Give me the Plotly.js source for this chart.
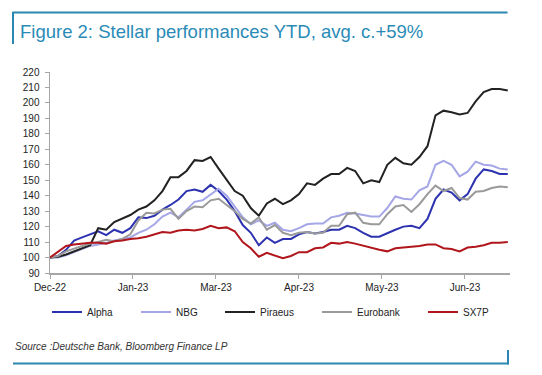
<!DOCTYPE html>
<html>
<head>
<meta charset="utf-8">
<script src="https://cdn.plot.ly/plotly-3.0.1.min.js"></script>
<style>html,body{margin:0;padding:0;background:#fff;}#chart{width:542px;height:375px;}</style>
</head>
<body>
<div id="chart"></div>
<script>
// Dates (sampled every 3 calendar days)
const dates = ["2022-12-30","2023-01-02","2023-01-05","2023-01-08","2023-01-11","2023-01-14","2023-01-17","2023-01-20","2023-01-23","2023-01-26",
"2023-01-29","2023-02-01","2023-02-04","2023-02-07","2023-02-10","2023-02-13","2023-02-16","2023-02-19","2023-02-22","2023-02-25",
"2023-02-28","2023-03-03","2023-03-06","2023-03-09","2023-03-12","2023-03-15","2023-03-18","2023-03-21","2023-03-24","2023-03-27",
"2023-03-30","2023-04-02","2023-04-05","2023-04-08","2023-04-11","2023-04-14","2023-04-17","2023-04-20","2023-04-23","2023-04-26",
"2023-04-29","2023-05-02","2023-05-05","2023-05-08","2023-05-11","2023-05-14","2023-05-17","2023-05-20","2023-05-23","2023-05-26",
"2023-05-29","2023-06-01","2023-06-04","2023-06-07","2023-06-10","2023-06-13","2023-06-16","2023-06-19"];

const alpha = [100,101,105,111,113,115,117,114.5,118,116,119,126,125.5,127,131,134,137.5,143,144,142.5,
147,143,137.5,130,121,116,108,113,109.5,112,112,115,116.5,115.5,116.5,118,118,120.5,119,116,
113.5,113.5,116,118,120,120.5,119,125,138,144,142,137,141,151,157,156,154,154];

const nbg = [100,100,101.5,103.5,105.5,107.5,108.5,109.5,111,112,113,116,118,121.5,126.5,129,126,131,136,137,
141,144.5,140,133,126,121.5,124,120.5,122.5,118,117,119,121.5,122,122,126,127,129,128.5,127.5,
126.5,126.5,132,139.5,138,137.5,143.5,146,160,162.6,160,152.5,155.5,162,160,159.5,157.5,157];

const piraeus = [100,100.5,102,104,106.5,108,119,118,123,125.5,127.5,131,133,137,143,152,152,156,163,162.5,
165,157.5,150,143,140,132,127,135,138,134.5,137,141,148,147,151,154,154,158,156,148,
150,148.8,160,164.5,161,160,165,172,192,195,194,192.5,193.5,201,207,209,209,208];

const eurobank = [100,101,104,106,107.5,109,110,111.5,110.5,112,115,124,129,128.5,131,131.5,125,130,133,132.5,
137,138,134,130,125,122,126,118,121,116,114.5,116,116.5,115.5,116,120.5,120.5,128,129,122.5,
121.5,121.5,128,133,134,129.5,134.5,141,146.5,143,145,138.5,137.5,142.5,143,145,146,145.5];

const sx7p = [100,103.5,107.5,108.5,109,109.5,109.5,109,110.5,111,112,112.5,113.5,115,116.5,116,117.5,118,117.5,118.5,
120.5,119,119.5,117,110,106,100.5,103,101.5,99.5,101,103.5,103.5,106,106.5,109.5,109,110,109,107.5,
106.5,105,104,106,106.5,107,107.5,108.5,108.5,106,105.5,104,106.5,107,108,109.5,109.5,110];

const seriesNames = ["Alpha","NBG","Piraeus","Eurobank","SX7P"];
const seriesValues = [alpha, nbg, piraeus, eurobank, sx7p];
const colors = ["#2d33b0","#a5a6e6","#222222","#9a9a9a","#b0161c"];
const legendIds = ["legend","legend2","legend3","legend4","legend5"];
const legendStartPx = [55,144,228,325,431];

const W = 542, H = 375;
const L = 50, R = 510, T = 72, B = 273;
const xp = px => (px - L) / (R - L);
const yp = py => (B - py) / (B - T);

const traces = seriesNames.map((n, i) => ({
  x: dates, y: seriesValues[i], type: "scatter", mode: "lines", name: n,
  line: {color: colors[i], width: 2},
  legend: legendIds[i]
}));

const layout = {
  width: W, height: H,
  margin: {l: L, r: W - R, t: T, b: H - B, pad: 0},
  paper_bgcolor: "#fff", plot_bgcolor: "#fff",
  font: {family: "Liberation Sans, Arial, sans-serif", size: 10, color: "#222"},
  title: {text: "Figure 2: Stellar performances YTD, avg. c.+59%", x: 20 / W, xanchor: "left", xref: "container",
    y: 1 - 31.5 / H, yanchor: "middle", yref: "container",
    font: {family: "Liberation Sans, Arial, sans-serif", size: 18.5, color: "#2a8bb7"}},
  xaxis: {
    type: "date", range: ["2022-12-30", "2023-06-19 20:00"],
    tick0: "2022-12-30", dtick: 31 * 86400000, tickformat: "%b-%y",
    showgrid: false, zeroline: false, showline: true, linecolor: "#a6a6a6", linewidth: 1.5,
    ticks: "outside", ticklen: 4, tickcolor: "#a6a6a6", tickwidth: 1,
    tickfont: {size: 10, color: "#222"}
  },
  yaxis: {
    range: [90, 220], dtick: 10, tick0: 90,
    showgrid: false, zeroline: false, showline: true, linecolor: "#a6a6a6", linewidth: 1.5,
    ticks: "outside", ticklen: 4, tickcolor: "#a6a6a6", tickwidth: 1,
    ticklabelstandoff: 3,
    tickfont: {size: 10, color: "#222"}
  },
  showlegend: true,
  shapes: [
    {type: "line", xref: "paper", yref: "paper", x0: xp(12.5), x1: xp(507.5), y0: yp(12.5), y1: yp(12.5), line: {color: "#2b87b1", width: 2}},
    {type: "line", xref: "paper", yref: "paper", x0: xp(13), x1: xp(13), y0: yp(12), y1: yp(44), line: {color: "#2b87b1", width: 2}},
    {type: "line", xref: "paper", yref: "paper", x0: xp(13), x1: xp(508.5), y0: yp(363.5), y1: yp(363.5), line: {color: "#2b87b1", width: 2}},
    {type: "line", xref: "paper", yref: "paper", x0: xp(508), x1: xp(508), y0: yp(350), y1: yp(364.5), line: {color: "#2b87b1", width: 2}}
  ],
  annotations: [
    {text: "<i>Source :Deutsche Bank, Bloomberg Finance LP</i>", xref: "paper", yref: "paper",
     x: xp(13), y: yp(346.5), xanchor: "left", yanchor: "middle", showarrow: false,
     font: {family: "Liberation Sans, Arial, sans-serif", size: 10, color: "#333"}}
  ]
};

legendIds.forEach((id, i) => {
  layout[id] = {
    orientation: "h", x: xp(legendStartPx[i] - 8), y: yp(312), xanchor: "left", yanchor: "middle",
    bgcolor: "rgba(0,0,0,0)", borderwidth: 0, font: {size: 10, color: "#222"}
  };
});

Plotly.newPlot("chart", traces, layout, {displayModeBar: false, staticPlot: true});
</script>
</body>
</html>
